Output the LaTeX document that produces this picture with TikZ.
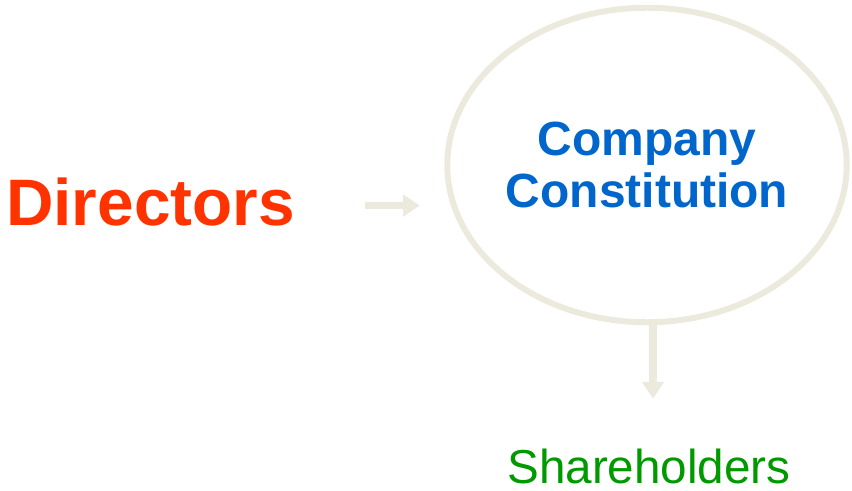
\documentclass[tikz,border=0pt]{standalone}
\usepackage{fontspec}
\setmainfont{Liberation Sans}
\usepackage{tikz}
\usetikzlibrary{arrows.meta,shapes.geometric}
\definecolor{dirred}{HTML}{FF3300}
\definecolor{constblue}{HTML}{0066CC}
\definecolor{sharegreen}{HTML}{009900}
\definecolor{paleline}{HTML}{ECE9DD}

\begin{document}
\begin{tikzpicture}[
    flow/.style={line width=4.5pt, paleline, -{Triangle[length=9.5pt,width=12pt]}},
    label/.style={inner sep=0pt, anchor=base}
  ]
    \useasboundingbox (0,0) rectangle (17.04,-9.82);
    % Nodes
    \node[label, text=dirred, font=\fontsize{37.4}{40}\selectfont\bfseries] (dir) at (3.01,-4.5) {Directors};
    \node[ellipse, draw=paleline, line width=3.4pt, inner sep=0pt, minimum width=7.95cm, minimum height=6.29cm,
          align=center, text=constblue, font=\fontsize{27.3}{29.5}\selectfont\bfseries] (const) at (12.94,-3.30) {Company\\Constitution};
    \node[label, text=sharegreen, font=\fontsize{27.1}{30}\selectfont] (share) at (12.98,-9.67) {Shareholders};

    % Arrows
    \draw[flow, shorten <=1.4cm, shorten >=0.49cm] ([yshift=-0.08cm]dir.east) -- ([yshift=-0.08cm]dir.east -| const.west);
    \draw[flow, shorten >=1.0cm] ([xshift=0.12cm]const.south) -- ([xshift=0.12cm]const.south |- share.north);
\end{tikzpicture}
\end{document}
